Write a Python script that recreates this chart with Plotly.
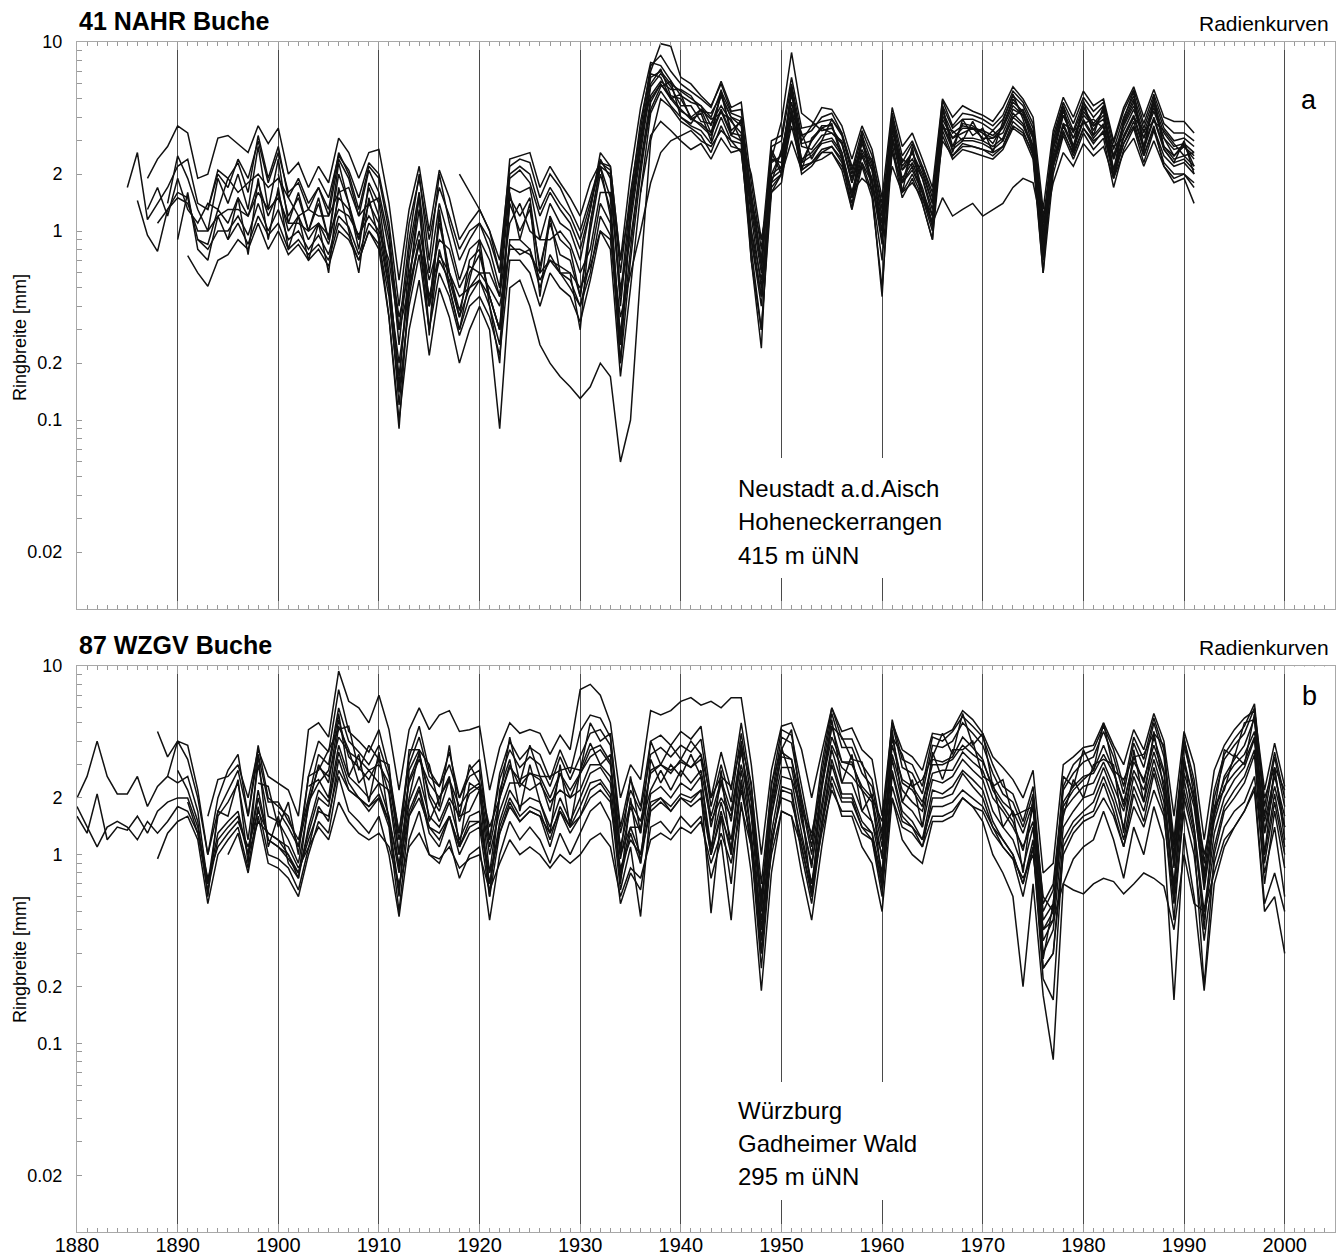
import plotly.graph_objects as go

# ---------------- Panel a: 41 NAHR Buche (ring widths in mm) ----------------
A01_START = 1887
A01 = [1.9, 2.4, 2.8,
       3.6, 3.3, 1.9, 2.0, 3.1, 3.2, 2.9, 2.6, 3.6, 2.9,
       3.5, 2.0, 2.3, 1.7, 2.2, 1.8, 3.1, 2.6, 1.9, 2.6,
       2.7, 1.4, 0.55, 1.3, 2.2, 1.0, 2.1, 1.5, 0.9, 1.1,
       1.3, 1.0, 0.7, 2.2, 2.4, 2.3, 1.5, 2.0, 1.7, 1.3,
       1.0, 1.5, 2.3, 2.1, 0.6, 1.6, 3.5, 7.5, 8.5, 7.0,
       6.0, 5.5, 5.0, 4.5, 6.2, 4.5, 4.8, 1.8, 0.8, 3.0,
       3.2, 6.5, 3.5, 3.6, 4.5, 4.4, 3.6, 2.4, 3.6, 2.7,
       1.5, 4.5, 2.8, 3.3, 2.4, 1.7, 5.0, 4.0, 4.6, 4.3,
       4.1, 3.8, 4.5, 5.8, 5.0, 4.0, 1.3, 3.4, 5.1, 4.0,
       5.5, 4.6, 5.0, 3.0, 4.5, 5.8, 4.0, 5.6, 4.0, 3.8,
       3.8, 3.3]
A02_START = 1885
A02 = [1.7, 2.6, 1.15, 1.4, 1.7,
       2.2, 2.4, 1.4, 1.3, 2.0, 1.7, 2.4, 1.9, 3.0, 1.8,
       2.6, 1.6, 1.8, 1.3, 1.7, 1.2, 2.4, 1.9, 1.2, 2.1,
       1.6, 0.9, 0.25, 0.8, 1.6, 0.6, 1.4, 0.9, 0.55, 0.8,
       0.9, 0.7, 0.45, 1.7, 1.6, 1.7, 0.9, 1.4, 1.1, 1.0,
       0.7, 1.3, 2.4, 1.9, 0.4, 1.3, 3.0, 6.5, 7.0, 6.0,
       5.5, 5.0, 4.6, 4.0, 5.5, 4.2, 4.0, 1.3, 0.6, 2.6,
       2.0, 5.6, 3.0, 3.6, 3.8, 3.9, 3.2, 2.0, 3.2, 2.3,
       1.2, 4.0, 2.3, 2.9, 2.1, 1.4, 4.6, 3.5, 3.9, 3.9,
       3.7, 3.4, 3.9, 5.2, 4.6, 3.5, 1.0, 3.0, 4.6, 3.4,
       4.8, 4.0, 4.6, 2.7, 4.0, 5.2, 3.5, 5.0, 3.5, 3.0,
       3.1, 2.8]
A03_START = 1886
A03 = [1.45, 0.95, 0.78, 1.3,
       1.6, 1.5, 0.9, 0.85, 1.3, 1.1, 1.5, 1.2, 1.8, 1.2,
       1.6, 1.0, 1.2, 0.9, 1.1, 0.85, 1.5, 1.3, 0.9, 1.4,
       1.1, 0.5, 0.12, 0.45, 0.9, 0.3, 0.8, 0.5, 0.3, 0.45,
       0.55, 0.4, 0.25, 0.9, 0.9, 0.8, 0.5, 0.75, 0.6, 0.55,
       0.4, 0.7, 1.4, 1.1, 0.2, 0.7, 2.0, 4.8, 6.0, 5.0,
       4.3, 4.0, 3.6, 3.2, 4.3, 3.2, 3.0, 0.9, 0.4, 1.9,
       2.1, 4.5, 2.3, 2.5, 2.9, 3.0, 2.5, 1.5, 2.5, 1.8,
       0.85, 3.1, 1.8, 2.2, 1.6, 1.05, 3.6, 2.7, 3.0, 3.0,
       2.9, 2.7, 3.0, 4.0, 3.6, 2.7, 0.75, 2.3, 3.6, 2.7,
       3.8, 3.1, 3.6, 2.0, 3.1, 4.0, 2.7, 3.9, 2.7, 2.3,
       2.4, 2.1]
A04_START = 1891
A04 = [0.74, 0.6, 0.51, 0.7, 0.75, 0.9, 0.8, 1.1, 0.8,
       1.0, 0.75, 0.85, 0.7, 0.8, 0.65, 1.0, 0.9, 0.7, 1.0,
       0.8, 0.35, 0.1, 0.3, 0.55, 0.22, 0.5, 0.35, 0.2, 0.3,
       0.4, 0.3, 0.09, 0.5, 0.55, 0.4, 0.25, 0.2, 0.17, 0.15,
       0.13, 0.15, 0.2, 0.17, 0.06, 0.1, 0.6, 3.0, 5.0, 4.5,
       3.8, 3.5, 3.2, 2.6, 3.6, 2.8, 2.7, 0.8, 0.3, 1.6,
       1.8, 4.0, 2.0, 2.2, 2.6, 2.6, 2.1, 1.3, 2.2, 1.5,
       0.5, 2.7, 1.5, 1.9, 1.4, 0.9, 3.2, 2.4, 2.7, 2.6,
       2.5, 2.4, 2.7, 3.5, 3.2, 2.4, 0.6, 2.0, 3.2, 2.4,
       3.3, 2.7, 3.1, 1.7, 2.7, 3.5, 2.3, 3.4, 2.3, 2.0,
       2.0, 1.7]
A05_START = 1889
A05 = [1.4,
       2.5, 1.9, 1.3, 1.0, 1.9, 1.4, 2.0, 1.3, 2.8, 1.3,
       2.4, 1.1, 1.6, 1.0, 1.5, 0.9, 2.3, 1.4, 0.8, 1.8,
       1.4, 0.6, 0.15, 0.7, 1.5, 0.4, 1.2, 0.6, 0.35, 0.7,
       0.8, 0.45, 0.3, 1.5, 1.2, 1.5, 0.6, 1.2, 0.9, 0.8,
       0.45, 1.1, 2.2, 1.5, 0.25, 1.2, 2.8, 6.0, 7.2, 5.2,
       5.0, 4.0, 4.4, 3.3, 5.3, 3.4, 3.8, 0.9, 0.45, 2.4,
       2.3, 5.6, 2.3, 3.0, 3.6, 3.6, 2.6, 1.5, 3.1, 1.8,
       0.9, 3.9, 1.8, 2.7, 1.6, 1.1, 4.5, 2.8, 3.7, 3.6,
       3.3, 2.9, 3.6, 5.0, 4.2, 2.8, 0.8, 2.8, 4.4, 2.8,
       4.6, 3.4, 4.4, 2.1, 3.8, 5.0, 2.8, 4.8, 2.8, 2.5,
       2.9, 2.2]
A06_START = 1888
A06 = [1.1, 1.3,
       1.5, 1.4, 1.0, 1.0, 1.2, 1.3, 1.3, 1.2, 1.6, 1.3,
       1.5, 1.1, 1.1, 1.0, 1.1, 0.95, 1.3, 1.2, 0.95, 1.2,
       1.0, 0.7, 0.3, 0.5, 0.9, 0.45, 0.75, 0.6, 0.45, 0.5,
       0.6, 0.5, 0.4, 0.8, 0.8, 0.75, 0.6, 0.7, 0.65, 0.6,
       0.5, 0.65, 1.0, 0.9, 0.35, 0.6, 1.0, 1.8, 2.6, 3.0,
       3.2, 3.4, 3.0, 2.8, 3.4, 3.0, 2.6, 1.0, 0.55, 1.6,
       2.0, 3.6, 2.2, 2.3, 2.6, 2.8, 2.4, 1.6, 2.3, 1.8,
       1.0, 2.6, 1.8, 2.1, 1.6, 1.2, 3.0, 2.5, 2.8, 2.8,
       2.7, 2.6, 2.8, 3.6, 3.3, 2.6, 0.9, 2.2, 3.3, 2.6,
       3.5, 3.0, 3.3, 2.0, 2.9, 3.6, 2.5, 3.5, 2.5, 2.2,
       2.3, 2.0]
A07_START = 1893
A07 = [1.3, 2.1, 1.9, 2.3, 1.6, 3.2, 1.9,
       2.8, 1.5, 1.9, 1.4, 1.7, 1.3, 2.6, 2.0, 1.3, 2.2,
       1.9, 1.0, 0.3, 0.9, 2.0, 0.7, 2.0, 1.1, 0.7, 0.9,
       1.1, 0.8, 0.5, 2.0, 2.2, 2.0, 1.3, 1.7, 1.4, 1.2,
       0.9, 1.4, 2.2, 2.0, 0.45, 1.5, 3.8, 7.0, 9.8, 9.5,
       6.5, 6.0, 5.2, 4.6, 6.0, 4.3, 4.4, 1.5, 0.7, 2.8,
       3.0, 6.0, 3.2, 3.4, 4.0, 4.2, 3.3, 2.1, 3.4, 2.5,
       1.3, 4.2, 2.5, 3.0, 2.2, 1.5, 4.9, 3.6, 4.2, 4.1,
       3.9, 3.6, 4.1, 5.5, 4.8, 3.7, 1.1, 3.2, 4.8, 3.7,
       5.1, 4.3, 4.8, 2.9, 4.3, 5.6, 3.7, 5.3, 3.7, 3.3,
       3.3, 3.0]
A08_START = 1895
A08 = [0.9, 1.1, 0.85, 1.2, 0.95,
       1.1, 0.8, 0.9, 0.75, 0.85, 0.7, 1.1, 0.95, 0.7, 1.0,
       0.85, 0.45, 0.14, 0.4, 0.75, 0.3, 0.6, 0.45, 0.28, 0.4,
       0.45, 0.35, 0.22, 0.7, 0.7, 0.6, 0.4, 0.6, 0.5, 0.45,
       0.33, 0.55, 1.0, 0.8, 0.17, 0.5, 1.6, 4.2, 5.5, 4.6,
       4.0, 3.6, 3.4, 2.9, 4.0, 3.0, 2.9, 0.7, 0.3, 1.8,
       2.0, 4.2, 2.1, 2.3, 2.7, 2.8, 2.3, 1.4, 2.3, 1.6,
       0.7, 2.9, 1.6, 2.0, 1.5, 1.0, 3.4, 2.5, 2.9, 2.8,
       2.7, 2.5, 2.8, 3.8, 3.4, 2.5, 0.7, 2.2, 3.4, 2.5,
       3.5, 2.9, 3.4, 1.9, 2.9, 3.8, 2.5, 3.6, 2.2, 1.8,
       1.9, 1.4]
A09_START = 1900
A09 = [2.0, 1.2, 1.5, 1.0, 1.4, 0.9, 2.0, 1.4, 0.9, 1.7,
       1.2, 0.55, 0.17, 0.55, 1.3, 0.4, 1.1, 0.6, 0.38, 0.6,
       0.75, 0.45, 0.3, 1.4, 1.0, 1.3, 0.65, 1.1, 0.75, 0.7,
       0.45, 1.0, 2.0, 1.3, 0.28, 1.1, 2.6, 5.8, 6.8, 5.8,
       4.6, 4.6, 3.8, 3.7, 4.6, 3.8, 3.3, 1.2, 0.5, 2.0,
       2.6, 4.8, 2.8, 2.7, 3.2, 3.3, 3.0, 1.8, 2.7, 2.1,
       1.0, 3.4, 2.1, 2.4, 1.9, 1.2, 3.9, 3.1, 3.3, 3.5,
       3.1, 3.1, 3.3, 4.4, 4.1, 3.1, 0.85, 2.5, 4.1, 3.1,
       4.1, 3.6, 3.9, 2.4, 3.4, 4.4, 3.1, 4.3, 3.1, 2.5,
       2.8, 2.4]
A10_START = 1918
A10 = [2.0, 1.6,
       1.3, 1.0, 0.6, 2.4, 2.5, 2.6, 1.7, 2.2, 1.8, 1.5,
       1.2, 1.8, 2.3, 2.2, 0.7, 2.0, 4.5, 7.8, 7.5, 6.2,
       5.2, 4.8, 4.6, 3.6, 5.2, 4.0, 3.8, 1.6, 0.7, 2.4,
       3.8, 8.8, 4.2, 3.8, 3.4, 3.5, 2.9, 1.8, 2.9, 2.1,
       1.1, 3.6, 2.1, 2.6, 1.9, 1.3, 4.1, 3.1, 3.5, 3.5,
       3.3, 3.1, 3.5, 4.6, 4.1, 3.1, 0.9, 2.7, 4.1, 3.1,
       4.3, 3.6, 4.1, 2.4, 3.6, 4.6, 3.1, 4.5, 3.1, 2.7,
       2.8, 2.5]
A11_START = 1887
A11 = [1.3, 1.7, 1.2,
       1.9, 1.3, 1.1, 1.4, 1.3, 1.9, 1.6, 1.8, 2.0, 1.7,
       1.9, 1.5, 1.2, 1.3, 1.2, 1.2, 1.6, 1.7, 1.2, 1.4,
       1.5, 0.8, 0.35, 0.6, 1.0, 0.55, 0.9, 0.8, 0.5, 0.65,
       0.6, 0.6, 0.45, 1.1, 1.4, 1.0, 0.9, 0.9, 1.0, 0.85,
       0.6, 0.8, 1.6, 1.6, 0.5, 0.9, 2.2, 4.4, 5.8, 6.2,
       4.0, 3.7, 4.4, 3.9, 4.2, 3.9, 3.0, 2.0, 0.9, 1.8,
       2.7, 4.2, 3.3, 2.4, 3.0, 3.9, 3.3, 2.2, 2.5, 2.4,
       1.4, 3.0, 2.4, 2.2, 2.2, 1.6, 3.5, 3.4, 3.0, 3.8,
       3.0, 3.4, 3.0, 4.0, 4.4, 3.3, 1.2, 2.2, 3.7, 3.4,
       3.7, 3.9, 3.5, 2.8, 3.1, 4.0, 3.4, 3.8, 3.4, 2.9,
       2.5, 2.6]
A12_START = 1890
A12 = [0.9, 1.6, 0.8, 0.7, 1.2, 0.9, 1.5, 0.75, 1.9, 0.9,
       1.7, 0.8, 1.2, 0.7, 1.1, 0.6, 1.7, 1.0, 0.6, 1.5,
       0.9, 0.35, 0.09, 0.5, 1.6, 0.28, 1.3, 0.5, 0.3, 0.55,
       0.9, 0.4, 0.2, 1.6, 0.9, 1.4, 0.45, 1.2, 0.6, 0.6,
       0.3, 1.1, 2.2, 1.2, 0.2, 1.3, 3.2, 6.8, 6.5, 5.0,
       5.3, 3.9, 4.2, 3.0, 5.6, 3.2, 3.9, 0.7, 0.24, 2.7,
       2.1, 5.8, 2.1, 3.1, 3.5, 3.7, 2.4, 1.3, 3.3, 1.6,
       0.45, 4.2, 1.6, 2.8, 1.4, 0.9, 4.6, 2.6, 3.9, 3.2,
       3.5, 2.6, 3.8, 5.3, 3.9, 2.6, 0.6, 3.0, 4.6, 2.6,
       4.9, 3.2, 4.6, 1.9, 3.9, 5.5, 2.6, 5.2, 2.7, 2.3,
       3.0, 2.0]
A13_START = 1904
A13 = [1.9, 1.5, 2.5, 2.1, 1.5, 2.3,
       2.0, 1.1, 0.4, 1.1, 1.9, 0.9, 1.7, 1.2, 0.8, 1.0,
       1.1, 0.9, 0.6, 1.9, 2.1, 1.8, 1.2, 1.6, 1.3, 1.1,
       0.8, 1.3, 2.6, 2.2, 0.7, 1.4, 3.2, 5.2, 6.2, 5.6,
       5.6, 5.2, 4.3, 4.2, 5.2, 4.0, 3.6, 1.4, 0.65, 2.3,
       2.5, 5.3, 2.9, 3.0, 3.5, 3.3, 2.9, 1.9, 3.0, 2.2,
       1.2, 3.7, 2.2, 2.6, 2.0, 1.4, 4.3, 3.3, 3.6, 3.5,
       3.4, 3.2, 3.6, 4.8, 4.3, 3.2, 0.95, 2.8, 4.3, 3.3,
       4.5, 3.7, 4.3, 2.5, 3.7, 4.8, 3.3, 4.7, 3.3, 2.8,
       2.9, 2.6]
A14_START = 1892
A14 = [0.9, 0.8, 1.0, 1.0, 1.2, 0.95, 1.4, 1.0,
       1.3, 0.9, 1.0, 0.8, 0.95, 0.75, 1.2, 1.05, 0.75, 1.1,
       0.95, 0.5, 0.2, 0.5, 0.85, 0.4, 0.7, 0.55, 0.35, 0.5,
       0.55, 0.45, 0.3, 0.85, 0.75, 0.8, 0.55, 0.7, 0.6, 0.5,
       0.4, 0.6, 1.2, 0.95, 0.25, 0.8, 2.3, 5.0, 6.0, 5.1,
       4.4, 3.9, 3.7, 3.3, 4.4, 3.3, 3.2, 1.0, 0.45, 2.0,
       2.2, 4.4, 2.4, 2.6, 3.0, 3.1, 2.6, 1.6, 2.6, 1.9,
       0.9, 3.2, 1.9, 2.3, 1.7, 1.1, 3.7, 2.8, 3.1, 3.1,
       3.0, 2.8, 3.1, 4.2, 3.7, 2.8, 0.8, 2.4, 3.7, 2.8,
       3.9, 3.2, 3.7, 2.1, 3.2, 4.1, 2.8, 4.0, 2.8, 2.4,
       2.5, 2.2]
A15_START = 1936
A15 = [1.6, 3.2, 3.8, 3.4,
       3.0, 2.7, 2.9, 2.4, 3.1, 2.6, 2.7, 1.4, 0.9, 1.7,
       2.0, 3.0, 2.1, 2.3, 2.4, 2.6, 2.2, 1.6, 1.9, 1.7,
       1.1, 2.2, 1.6, 1.8, 1.5, 1.1, 1.5, 1.2, 1.3, 1.4,
       1.2, 1.3, 1.4, 1.7, 1.9, 1.8, 1.0, 1.8, 2.6, 2.2,
       2.9, 2.5, 2.8, 1.9, 2.6, 3.1, 2.2, 3.0, 2.2, 1.9,
       2.0, 1.8]

# ---------------- Panel b: 87 WZGV Buche ----------------
B01_START = 1880
B01 = [2.0, 2.6, 4.0, 2.6, 2.1, 2.1, 2.6, 1.8, 2.3, 2.6,
       4.0, 3.2, 2.0, 1.0, 1.7, 2.2, 2.8, 1.6, 3.4, 1.9,
       1.9, 1.5, 1.2, 2.0, 3.4, 3.0, 6.0, 4.0, 3.5, 3.0,
       3.8, 2.6, 1.3, 3.0, 4.2, 2.6, 2.3, 3.0, 2.0, 2.6,
       2.8, 1.2, 2.5, 3.6, 2.9, 3.3, 3.0, 2.3, 3.3, 2.5,
       3.3, 4.4, 4.6, 3.8, 1.3, 2.2, 1.7, 3.4, 3.7, 3.3,
       3.8, 3.5, 4.1, 1.8, 3.0, 1.9, 4.4, 2.0, 0.6, 2.0,
       4.2, 3.9, 2.0, 1.1, 2.7, 5.6, 3.7, 3.7, 2.7, 2.3,
       1.2, 5.0, 2.9, 2.7, 2.1, 3.8, 3.7, 4.0, 5.0, 4.4,
       3.8, 2.7, 2.1, 1.9, 1.4, 2.1, 0.5, 0.65, 2.2, 2.7,
       3.1, 3.3, 4.5, 3.3, 2.1, 3.9, 2.9, 5.0, 3.3, 1.1,
       3.8, 2.3, 0.8, 2.0, 3.2, 3.8, 4.4, 6.0, 1.6, 3.3,
       1.8]
B02_START = 1880
B02 = [1.6, 1.3, 2.1, 1.2, 1.4, 1.35, 1.6, 1.3, 1.7, 1.9,
       2.0, 2.0, 1.4, 0.7, 1.3, 1.5, 1.7, 1.0, 2.2, 1.2,
       1.1, 1.0, 0.75, 1.4, 2.2, 1.9, 3.8, 2.6, 2.3, 2.0,
       2.4, 1.6, 0.8, 1.9, 2.6, 1.6, 1.4, 1.9, 1.2, 1.6,
       1.7, 0.7, 1.5, 2.2, 1.8, 2.0, 1.9, 1.4, 2.0, 1.5,
       2.0, 2.7, 2.9, 2.4, 0.8, 1.4, 1.0, 2.1, 2.3, 2.0,
       2.4, 2.2, 2.6, 1.1, 1.9, 1.2, 2.8, 1.3, 0.35, 1.3,
       2.6, 2.5, 1.3, 0.7, 1.7, 3.6, 2.4, 2.4, 1.7, 1.5,
       0.8, 3.2, 1.9, 1.7, 1.4, 2.5, 2.4, 2.6, 3.2, 2.8,
       2.5, 1.7, 1.4, 1.2, 0.85, 1.4, 0.3, 0.4, 1.4, 1.7,
       2.0, 2.1, 2.9, 2.1, 1.4, 2.6, 1.9, 3.2, 2.1, 0.7,
       2.5, 1.4, 0.5, 1.3, 2.0, 2.5, 2.9, 4.1, 1.0, 2.1,
       1.1]
B03_START = 1880
B03 = [1.8, 1.4, 1.1, 1.4, 1.5, 1.4, 1.2, 1.5, 1.3, 1.5,
       1.8, 1.7, 1.3, 0.75, 1.1, 1.3, 1.5, 1.1, 1.7, 1.3,
       1.2, 1.0, 0.8, 1.2, 1.7, 1.6, 2.8, 2.2, 2.0, 1.8,
       2.0, 1.5, 0.9, 1.6, 2.0, 1.4, 1.3, 1.6, 1.1, 1.4,
       1.5, 0.8, 1.3, 1.8, 1.5, 1.7, 1.6, 1.3, 1.7, 1.4,
       1.6, 2.0, 2.2, 1.9, 0.85, 1.2, 1.0, 1.7, 1.9, 1.7,
       2.0, 1.8, 2.0, 1.0, 1.6, 1.1, 2.2, 1.2, 0.45, 1.2,
       2.0, 1.9, 1.2, 0.7, 1.4, 2.6, 1.9, 1.9, 1.4, 1.3,
       0.75, 2.3, 1.5, 1.4, 1.2, 1.8, 1.8, 1.9, 2.2, 2.0,
       1.8, 1.4, 1.2, 1.0, 0.7, 1.1, 0.25, 0.3, 1.0, 1.3,
       1.5, 1.6, 2.0, 1.6, 1.1, 1.8, 1.4, 2.2, 1.6, 0.55,
       1.7, 1.0, 0.35, 0.9, 1.4, 1.7, 1.9, 2.6, 0.8, 1.4,
       0.6]
B04_START = 1888
B04 = [4.5, 3.3,
       4.0, 3.8, 2.2, 1.0, 2.0, 2.8, 3.4, 1.6, 3.8, 2.0,
       1.8, 1.6, 1.1, 2.6, 4.0, 3.5, 7.5, 4.5, 4.0, 3.5,
       4.6, 2.8, 1.3, 3.3, 4.8, 2.8, 2.3, 3.5, 2.0, 2.8,
       3.2, 1.2, 2.7, 4.0, 3.2, 3.7, 3.4, 2.5, 3.6, 2.7,
       4.5, 5.5, 5.3, 4.2, 1.4, 2.5, 1.8, 4.0, 4.3, 3.8,
       4.5, 4.1, 4.8, 2.0, 3.5, 2.2, 5.0, 2.3, 0.7, 2.3,
       4.6, 4.3, 2.3, 1.2, 3.0, 6.0, 4.1, 4.1, 3.0, 2.5,
       1.3, 5.2, 3.2, 3.0, 2.3, 4.2, 4.0, 4.5, 5.4, 4.8,
       4.2, 3.0, 2.3, 2.1, 1.5, 2.3, 0.55, 0.7, 2.3, 3.0,
       3.4, 3.6, 4.8, 3.6, 2.3, 4.2, 3.2, 5.3, 3.6, 1.2,
       4.1, 2.5, 0.9, 2.2, 3.4, 4.1, 4.8, 6.3, 1.8, 3.5,
       2.0]
B05_START = 1888
B05 = [0.95, 1.3,
       1.5, 1.6, 1.2, 0.55, 1.0, 1.2, 1.4, 0.85, 1.8, 1.0,
       0.95, 0.85, 0.65, 1.1, 1.8, 1.5, 3.2, 2.2, 2.0, 1.7,
       2.0, 1.4, 0.5, 1.6, 2.2, 1.3, 1.1, 1.6, 1.0, 1.3,
       1.4, 0.6, 1.3, 1.9, 1.5, 1.7, 1.6, 1.1, 1.7, 1.3,
       1.6, 2.2, 2.4, 2.0, 0.65, 1.1, 0.47, 1.8, 2.0, 1.7,
       2.0, 1.9, 2.2, 0.49, 1.6, 0.7, 2.4, 1.1, 0.25, 1.1,
       2.2, 2.1, 1.0, 0.55, 1.4, 3.0, 2.0, 2.0, 1.4, 1.2,
       0.6, 2.7, 1.6, 1.4, 1.1, 2.0, 2.0, 2.1, 2.7, 2.3,
       2.0, 1.4, 1.1, 0.95, 0.6, 1.1, 0.22, 0.17, 1.1, 1.4,
       1.6, 1.7, 2.4, 1.7, 1.1, 2.1, 1.5, 2.7, 1.7, 0.45,
       2.0, 1.2, 0.2, 1.0, 1.7, 2.0, 2.4, 3.4, 0.7, 1.7,
       0.85]
B06_START = 1889
B06 = [2.6,
       2.4, 2.6, 1.7, 0.7, 1.6, 1.9, 2.4, 1.2, 3.0, 1.6,
       1.5, 1.2, 0.9, 1.8, 3.0, 2.4, 5.2, 3.3, 2.9, 2.5,
       3.2, 2.1, 0.85, 2.5, 3.4, 2.1, 1.7, 2.5, 1.5, 2.1,
       2.3, 0.8, 2.0, 3.0, 2.3, 2.7, 2.5, 1.7, 2.7, 2.0,
       2.7, 3.6, 3.8, 3.1, 0.95, 1.8, 1.3, 2.8, 3.0, 2.7,
       3.2, 2.9, 3.4, 1.4, 2.4, 1.5, 3.7, 1.6, 0.4, 1.6,
       3.5, 3.2, 1.6, 0.85, 2.2, 4.8, 3.1, 3.1, 2.2, 1.9,
       0.95, 4.2, 2.4, 2.2, 1.8, 3.2, 3.1, 3.3, 4.2, 3.7,
       3.2, 2.2, 1.8, 1.5, 1.05, 1.8, 0.35, 0.45, 1.8, 2.2,
       2.5, 2.8, 3.8, 2.8, 1.8, 3.3, 2.4, 4.2, 2.8, 0.85,
       3.2, 1.9, 0.65, 1.6, 2.6, 3.2, 3.8, 5.3, 1.3, 2.8,
       1.4]
B07_START = 1893
B07 = [1.6, 2.5, 2.6, 3.0, 2.0, 3.6, 2.6,
       2.4, 2.2, 1.6, 4.6, 5.0, 4.2, 9.4, 6.5, 6.0, 5.0,
       7.0, 4.6, 2.2, 4.6, 6.0, 4.6, 5.5, 5.8, 4.5, 4.6,
       4.8, 2.2, 3.7, 5.0, 4.4, 4.6, 4.4, 3.4, 4.3, 3.6,
       7.5, 8.0, 7.0, 5.0, 2.0, 3.0, 2.5, 5.8, 5.5, 5.8,
       6.5, 6.8, 6.2, 6.5, 6.0, 6.8, 6.8, 3.0, 1.0, 2.8,
       4.8, 5.0, 3.6, 2.0, 3.5, 6.0, 4.5, 4.7, 3.6, 3.2,
       1.6, 5.0, 3.6, 3.3, 2.8, 4.4, 4.3, 4.6, 5.8, 5.2,
       4.4, 3.3, 2.9, 2.5, 2.0, 2.8, 0.8, 0.9, 3.0, 3.3,
       3.7, 3.8, 5.0, 3.8, 3.0, 4.6, 3.6, 5.6, 4.0, 1.6,
       4.5, 3.0, 1.2, 2.8, 3.8, 4.6, 5.3, 5.8, 2.2, 3.9,
       2.3]
B08_START = 1895
B08 = [1.0, 1.3, 0.8, 1.6, 0.9,
       0.85, 0.75, 0.6, 1.0, 1.5, 1.3, 2.6, 1.7, 1.5, 1.3,
       1.6, 1.0, 0.47, 1.2, 1.7, 1.0, 0.9, 1.2, 0.75, 1.0,
       1.1, 0.45, 1.0, 1.5, 1.2, 1.4, 1.2, 0.9, 1.3, 1.0,
       1.3, 1.7, 1.9, 1.5, 0.55, 0.8, 0.65, 1.4, 1.5, 1.3,
       1.6, 1.4, 1.6, 0.75, 1.2, 0.45, 1.9, 0.8, 0.19, 0.8,
       1.7, 1.6, 0.8, 0.45, 1.1, 2.4, 1.6, 1.6, 1.1, 0.9,
       0.5, 2.0, 1.2, 1.0, 0.9, 1.5, 1.5, 1.6, 2.0, 1.8,
       1.5, 1.0, 0.8, 0.6, 0.2, 0.7, 0.18, 0.082, 0.7, 0.95,
       1.1, 1.2, 1.7, 1.2, 0.75, 1.4, 1.0, 1.8, 1.2, 0.17,
       1.3, 0.6, 0.19, 0.7, 1.1, 1.4, 1.7, 2.2, 0.5, 0.6,
       0.3]
B09_START = 1890
B09 = [2.8, 2.2, 1.5, 0.6, 1.7, 1.6, 2.5, 0.9, 3.4, 1.1,
       1.6, 0.9, 0.75, 1.9, 2.4, 2.8, 5.6, 2.6, 3.4, 1.9,
       3.5, 1.5, 0.6, 2.8, 3.6, 1.5, 2.0, 2.6, 1.1, 2.4,
       2.2, 0.6, 2.2, 3.2, 1.7, 3.0, 1.9, 1.3, 3.0, 1.4,
       2.8, 3.9, 3.0, 3.4, 0.7, 2.0, 0.9, 3.2, 2.4, 3.0,
       2.6, 3.4, 2.6, 1.0, 2.8, 1.0, 4.0, 1.2, 0.3, 1.9,
       3.7, 2.5, 1.8, 0.6, 2.4, 5.2, 2.4, 3.4, 1.7, 2.1,
       0.7, 4.6, 1.9, 2.5, 1.4, 3.5, 2.5, 3.6, 3.6, 4.0,
       2.6, 2.4, 1.4, 1.7, 0.8, 2.0, 0.28, 0.55, 1.6, 2.5,
       2.0, 3.0, 3.2, 3.0, 1.3, 3.6, 1.9, 4.5, 2.2, 0.65,
       3.3, 1.4, 0.4, 1.8, 2.2, 3.4, 3.0, 5.6, 1.0, 2.9,
       1.2]
B10_START = 1900
B10 = [1.7, 1.4, 1.1, 1.9, 2.9, 2.6, 4.2, 3.5, 3.2, 2.8,
       3.0, 2.4, 1.2, 2.4, 3.2, 2.4, 2.0, 2.5, 1.8, 2.2,
       2.4, 1.1, 2.0, 2.9, 2.5, 2.7, 2.6, 2.0, 2.7, 2.2,
       2.7, 3.3, 3.6, 3.0, 1.1, 1.9, 1.5, 2.7, 3.0, 2.8,
       3.1, 2.9, 3.2, 1.6, 2.5, 1.7, 3.5, 1.9, 0.55, 1.8,
       3.3, 3.2, 1.9, 1.0, 2.3, 4.2, 3.1, 3.0, 2.3, 2.0,
       1.1, 3.8, 2.5, 2.3, 1.9, 3.0, 3.0, 3.2, 3.8, 3.4,
       3.1, 2.3, 1.9, 1.7, 1.3, 1.9, 0.45, 0.55, 1.9, 2.3,
       2.6, 2.7, 3.4, 2.7, 1.9, 3.1, 2.5, 3.8, 2.7, 1.0,
       3.0, 2.0, 0.75, 1.7, 2.5, 3.0, 3.4, 4.5, 1.5, 2.6,
       1.6]
B11_START = 1897
B11 = [1.0, 1.5, 1.3,
       1.2, 1.1, 0.85, 1.1, 1.4, 1.2, 1.9, 1.5, 1.3, 1.2,
       1.3, 1.1, 0.7, 1.1, 1.3, 1.0, 0.95, 1.1, 0.85, 0.95,
       1.0, 0.65, 0.9, 1.2, 1.0, 1.1, 1.0, 0.85, 1.0, 0.9,
       1.0, 1.2, 1.3, 1.1, 0.6, 0.85, 0.75, 1.2, 1.3, 1.2,
       1.4, 1.3, 1.5, 0.9, 1.3, 0.9, 1.8, 1.1, 0.4, 1.0,
       1.7, 1.6, 1.1, 0.65, 1.3, 2.2, 1.7, 1.7, 1.3, 1.2,
       0.7, 2.0, 1.4, 1.3, 1.1, 1.6, 1.6, 1.7, 2.0, 1.8,
       1.7, 1.3, 1.1, 0.95, 0.75, 1.0, 0.4, 0.45, 0.7, 0.65,
       0.62, 0.7, 0.75, 0.72, 0.62, 0.7, 0.8, 0.75, 0.68, 0.4,
       1.0, 0.55, 0.5, 0.8, 1.2, 1.4, 1.7, 2.3, 0.55, 0.8,
       0.5]
B12_START = 1903
B12 = [2.3, 2.5, 2.0, 4.8, 3.6, 2.4, 2.8,
       2.4, 2.2, 1.0, 2.0, 3.5, 2.0, 1.5, 2.0, 1.6, 1.7,
       2.2, 1.0, 1.7, 2.4, 2.4, 2.2, 2.4, 1.9, 2.2, 2.0,
       2.2, 3.0, 3.0, 2.6, 1.0, 1.4, 1.4, 2.2, 2.8, 2.2,
       2.8, 2.4, 2.8, 1.5, 2.0, 1.6, 3.0, 1.7, 0.5, 1.6,
       2.9, 2.9, 1.5, 0.9, 1.9, 3.8, 2.9, 2.6, 2.2, 1.5,
       1.0, 3.4, 2.2, 1.9, 1.7, 2.7, 2.8, 2.8, 3.5, 3.1,
       2.8, 2.0, 1.7, 1.4, 1.1, 1.5, 0.4, 0.5, 1.7, 2.0,
       2.3, 2.4, 3.1, 2.3, 1.7, 2.8, 2.2, 3.5, 2.4, 0.9,
       2.7, 1.8, 0.7, 1.5, 2.3, 2.7, 3.1, 4.2, 1.3, 2.3,
       1.4]
B13_START = 1891
B13 = [1.9, 1.3, 0.65, 1.2, 1.4, 1.6, 1.0, 2.0, 1.2,
       1.1, 0.95, 0.8, 1.3, 2.0, 1.8, 3.5, 2.4, 2.0, 1.8,
       2.1, 1.5, 0.65, 1.7, 2.3, 1.4, 1.2, 1.6, 1.1, 1.5,
       1.5, 0.7, 1.4, 2.0, 1.6, 1.8, 1.7, 1.2, 1.8, 1.4,
       1.8, 2.4, 2.5, 2.1, 0.75, 1.3, 0.9, 1.9, 2.0, 1.8,
       2.1, 2.0, 2.2, 1.0, 1.7, 1.0, 2.5, 1.1, 0.3, 1.1,
       2.3, 2.2, 1.1, 0.6, 1.5, 3.2, 2.1, 2.1, 1.5, 1.3,
       0.65, 2.8, 1.7, 1.5, 1.2, 2.2, 2.1, 2.3, 2.8, 2.5,
       2.2, 1.5, 1.2, 1.0, 0.7, 1.2, 0.25, 0.3, 1.2, 1.5,
       1.7, 1.9, 2.6, 1.9, 1.2, 2.3, 1.7, 2.9, 1.9, 0.6,
       2.2, 1.3, 0.45, 1.1, 1.8, 2.2, 2.6, 3.6, 0.9, 1.9,
       1.0]
B14_START = 1898
B14 = [2.4, 2.3,
       1.4, 1.9, 1.0, 2.6, 2.8, 3.6, 4.6, 4.8, 2.8, 3.8,
       3.2, 3.0, 1.0, 3.6, 3.6, 3.0, 1.8, 3.8, 1.6, 3.0,
       2.4, 1.4, 2.0, 4.2, 2.4, 3.8, 2.6, 2.6, 2.8, 2.9,
       2.8, 5.0, 4.0, 4.4, 1.0, 2.6, 1.3, 4.0, 3.0, 3.8,
       3.2, 4.0, 3.4, 2.0, 2.6, 2.3, 3.8, 2.4, 0.5, 2.4,
       3.6, 4.6, 1.7, 1.3, 2.3, 4.8, 4.2, 3.2, 3.1, 2.0,
       1.5, 4.2, 3.4, 2.3, 2.5, 3.3, 4.4, 3.4, 5.6, 3.8,
       4.4, 2.3, 2.5, 1.6, 1.7, 1.8, 0.6, 0.5, 2.6, 2.3,
       3.6, 2.8, 5.0, 2.8, 2.5, 3.3, 3.4, 4.4, 3.8, 0.9,
       4.2, 2.0, 1.0, 1.7, 3.6, 3.3, 5.0, 5.2, 2.0, 2.9,
       2.2]

SERIES_A = [(A01_START, A01), (A02_START, A02), (A03_START, A03), (A04_START, A04),
            (A05_START, A05), (A06_START, A06), (A07_START, A07), (A08_START, A08),
            (A09_START, A09), (A10_START, A10), (A11_START, A11), (A12_START, A12),
            (A13_START, A13), (A14_START, A14), (A15_START, A15)]
SERIES_B = [(B01_START, B01), (B02_START, B02), (B03_START, B03), (B04_START, B04),
            (B05_START, B05), (B06_START, B06), (B07_START, B07), (B08_START, B08),
            (B09_START, B09), (B10_START, B10), (B11_START, B11), (B12_START, B12),
            (B13_START, B13), (B14_START, B14)]

# axis ticks
X_RANGE = [1880, 2005]
X_FIVE = [1885, 1895, 1905, 1915, 1925, 1935, 1945, 1955, 1965, 1975, 1985, 1995, 2005]
Y_TICKVALS = [m * 10 ** e for e in (-2, -1, 0) for m in range(1, 10)] + [10]
Y_LABELED = {0.02: "0.02", 0.1: "0.1", 0.2: "0.2", 1: "1", 2: "2", 10: "10"}

FONT = "Liberation Sans, Arial, Helvetica, sans-serif"
LINE_COL = "#111111"

fig = go.Figure()
for start, vals in SERIES_A:
    fig.add_trace(go.Scatter(x=list(range(start, start + len(vals))), y=vals, mode="lines",
                             line=dict(color=LINE_COL, width=1.5), xaxis="x", yaxis="y",
                             showlegend=False, hoverinfo="skip"))
for start, vals in SERIES_B:
    fig.add_trace(go.Scatter(x=list(range(start, start + len(vals))), y=vals, mode="lines",
                             line=dict(color=LINE_COL, width=1.5), xaxis="x2", yaxis="y2",
                             showlegend=False, hoverinfo="skip"))

frame_col = "#a8a8a8"
grid_col = "#4a4a4a"
tick_col = "#999999"

def x_main(anchor, labels):
    return dict(domain=[0, 1], anchor=anchor, range=X_RANGE, tickmode="linear", tick0=1880, dtick=10,
                ticks="inside", ticklen=8, tickcolor=tick_col, showgrid=True, gridcolor=grid_col,
                gridwidth=1, showline=True, linecolor=frame_col, linewidth=1, mirror="ticks",
                zeroline=False, automargin=False, showticklabels=labels, ticklabelstandoff=-5,
                tickfont=dict(family=FONT, size=20, color="black"),
                minor=dict(tick0=1880, dtick=1, ticks="inside", ticklen=4, tickcolor=tick_col, showgrid=False))

def x_five(over, anchor):
    return dict(overlaying=over, anchor=anchor, range=X_RANGE, tickmode="array", tickvals=X_FIVE,
                ticks="inside", ticklen=8, tickcolor=tick_col, showgrid=False, showline=True,
                linecolor=frame_col, mirror="ticks", showticklabels=False, zeroline=False,
                automargin=False)

def y_main(domain, anchor):
    return dict(domain=domain, anchor=anchor, type="log", range=[-2, 1], tickmode="array",
                tickvals=Y_TICKVALS, ticktext=[Y_LABELED.get(round(v, 3), "") for v in Y_TICKVALS],
                ticks="inside", ticklen=5, tickcolor=tick_col, showgrid=False, showline=True,
                linecolor=frame_col, linewidth=1, mirror=True, zeroline=False, automargin=False,
                tickfont=dict(family=FONT, size=18, color="black"), ticklabelstandoff=10)

def y_grid(over, anchor):
    return dict(overlaying=over, anchor=anchor, type="log", range=[-2, 1], tickmode="array",
                tickvals=[0.1, 1], showgrid=True, gridcolor="#2a2a2a", gridwidth=1,
                showticklabels=False, ticks="", showline=False, zeroline=False, automargin=False)

top_dom = [0.5235, 1.0]
bot_dom = [0.0, 0.4756]

fig.update_layout(
    width=1342, height=1258,
    margin=dict(l=77, r=7, t=42, b=26, autoexpand=False),
    paper_bgcolor="white", plot_bgcolor="white",
    font=dict(family=FONT, color="black"),
    xaxis=x_main("y", False),
    xaxis2=x_main("y2", True),
    xaxis3=x_five("x", "y"),
    xaxis4=x_five("x2", "y2"),
    yaxis=y_main(top_dom, "x"),
    yaxis2=y_main(bot_dom, "x2"),
    yaxis3=y_grid("y", "x"),
    yaxis4=y_grid("y2", "x2"),
)

def py(s):  # screen y (px from top) -> paper y
    return (1232 - s) / 1190.0

def px(s):  # screen x -> paper x
    return (s - 77) / 1258.0

ann = []
ann.append(dict(text="<b>41 NAHR Buche</b>", x=px(77), y=py(21), xref="paper", yref="paper",
                xanchor="left", yanchor="middle", showarrow=False, font=dict(size=25)))
ann.append(dict(text="<b>87 WZGV Buche</b>", x=px(77), y=py(645), xref="paper", yref="paper",
                xanchor="left", yanchor="middle", showarrow=False, font=dict(size=25)))
for s in (23, 647):
    ann.append(dict(text="Radienkurven", x=px(1331), y=py(s), xref="paper", yref="paper",
                    xanchor="right", yanchor="middle", showarrow=False, font=dict(size=21)))
for s in (338, 960):
    ann.append(dict(text="Ringbreite [mm]", x=px(20), y=py(s), xref="paper", yref="paper",
                    xanchor="center", yanchor="middle", textangle=-90, showarrow=False,
                    font=dict(size=18)))
for lab, s in (("a", 100), ("b", 696)):
    ann.append(dict(text=lab, x=px(1309), y=py(s), xref="paper", yref="paper",
                    xanchor="center", yanchor="middle", showarrow=False, font=dict(size=27),
                    bgcolor="white", borderpad=14))
for lines, ys in ((["Neustadt a.d.Aisch", "Hoheneckerrangen", "415 m üNN"], (488, 521, 555)),
                  (["Würzburg", "Gadheimer Wald", "295 m üNN"], (1110, 1143, 1176))):
    for t, s in zip(lines, ys):
        ann.append(dict(text=t, x=px(736), y=py(s), xref="paper", yref="paper",
                        xanchor="left", yanchor="middle", showarrow=False, font=dict(size=24)))
fig.update_layout(annotations=ann)

shapes = []
for top, bot in ((458, 578), (1082, 1200)):
    shapes.append(dict(type="rect", xref="paper", yref="paper", x0=px(722), x1=px(970),
                       y0=py(bot), y1=py(top), fillcolor="white", line=dict(width=0), layer="above"))
fig.update_layout(shapes=shapes)

fig.write_html("out.html", config={"displayModeBar": False},
               post_script="document.body.style.margin='0px';document.body.style.overflow='hidden';")
